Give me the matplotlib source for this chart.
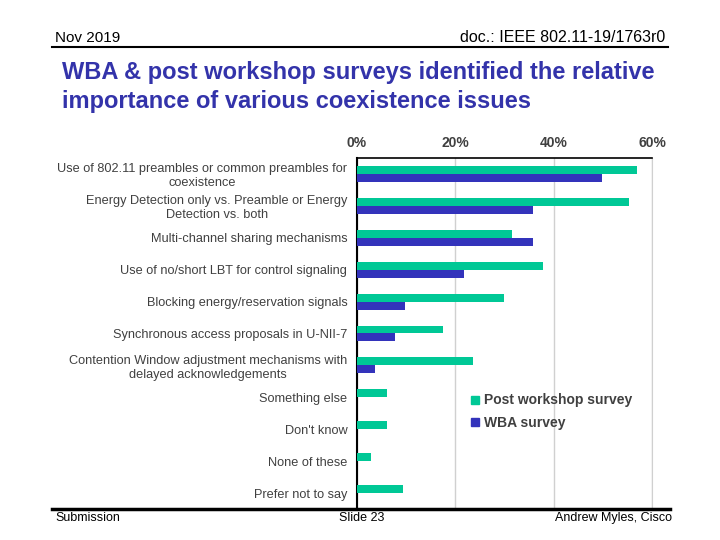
import numpy as np
import matplotlib
matplotlib.use("Agg")
from matplotlib import pyplot as plt
from matplotlib.lines import Line2D

plt.rcParams['font.family'] = ['Liberation Sans', 'DejaVu Sans']

categories = [
    "Use of 802.11 preambles or common preambles for\ncoexistence",
    "Energy Detection only vs. Preamble or Energy\nDetection vs. both",
    "Multi-channel sharing mechanisms",
    "Use of no/short LBT for control signaling",
    "Blocking energy/reservation signals",
    "Synchronous access proposals in U-NII-7",
    "Contention Window adjustment mechanisms with\ndelayed acknowledgements",
    "Something else",
    "Don't know",
    "None of these",
    "Prefer not to say",
]
post_workshop = [57.0, 55.4, 31.6, 37.9, 29.9, 17.5, 23.6, 6.1, 6.1, 2.9, 9.4]
wba_survey = [49.9, 35.8, 35.8, 21.8, 9.8, 7.8, 3.7, 0, 0, 0, 0]
xticks = [0, 20, 40, 60]

green = "#00C896"
blue = "#3333BB"
grey = "#404040"

fig = plt.figure(figsize=(7.2, 5.4), dpi=100)

# slide header / footer
fig.text(55/720, 1-38/540, "Nov 2019", fontsize=11, va="center", ha="left")
fig.text(665/720, 1-38/540, "doc.: IEEE 802.11-19/1763r0", fontsize=11.5, va="center", ha="right")
fig.add_artist(Line2D([52/720, 668/720], [1-47/540, 1-47/540], color="black", lw=1.5))
fig.text(62/720, 1-87/540, "WBA & post workshop surveys identified the relative\nimportance of various coexistence issues",
         fontsize=17, fontweight="bold", color="#3333AA", va="center", ha="left", linespacing=1.3)
fig.add_artist(Line2D([52/720, 670/720], [1-509/540, 1-509/540], color="black", lw=2.5))
fig.text(55/720, 1-518/540, "Submission", fontsize=9, va="center", ha="left")
fig.text(362/720, 1-518/540, "Slide 23", fontsize=9, va="center", ha="center")
fig.text(672/720, 1-518/540, "Andrew Myles, Cisco", fontsize=9, va="center", ha="right")

ax = fig.add_axes([357/720, 1-509/540, 295/720, 351/540])
y = np.arange(len(categories))
h = 0.25
ax.barh(y - h/2, post_workshop, height=h, color=green, label="Post workshop survey", zorder=3)
ax.barh(y + h/2, wba_survey, height=h, color=blue, label="WBA survey", zorder=3)
ax.set_ylim(len(categories) - 0.5, -0.5)
ax.set_xlim(0, 60)
ax.set_yticks(y)
ax.set_yticklabels(categories, fontsize=9.2, color=grey, ha="right", multialignment="center")
ax.tick_params(axis="y", length=0, pad=7)
ax.xaxis.tick_top()
ax.set_xticks(xticks)
ax.set_xticklabels([f"{v}%" for v in xticks], fontsize=10, color=grey, fontweight="bold")
ax.tick_params(axis="x", length=0, pad=6)
ax.grid(axis="x", color="#D0D0D0", lw=1, zorder=0)
ax.spines["bottom"].set_visible(False)
ax.spines["right"].set_color("#D0D0D0")
ax.spines["left"].set_linewidth(1.5)
ax.spines["top"].set_linewidth(1.2)

handles = [Line2D([], [], marker="s", ls="", color=green, markersize=6),
           Line2D([], [], marker="s", ls="", color=blue, markersize=6)]
leg = ax.legend(handles, ["Post workshop survey", "WBA survey"], loc="upper left",
                bbox_to_anchor=(0.335, 0.365), frameon=False,
                prop={"size": 10, "weight": "bold"},
                handletextpad=0.1, handlelength=1.0, labelspacing=0.6)
for t in leg.get_texts():
    t.set_color(grey)

fig.savefig("out.png", dpi=100)
